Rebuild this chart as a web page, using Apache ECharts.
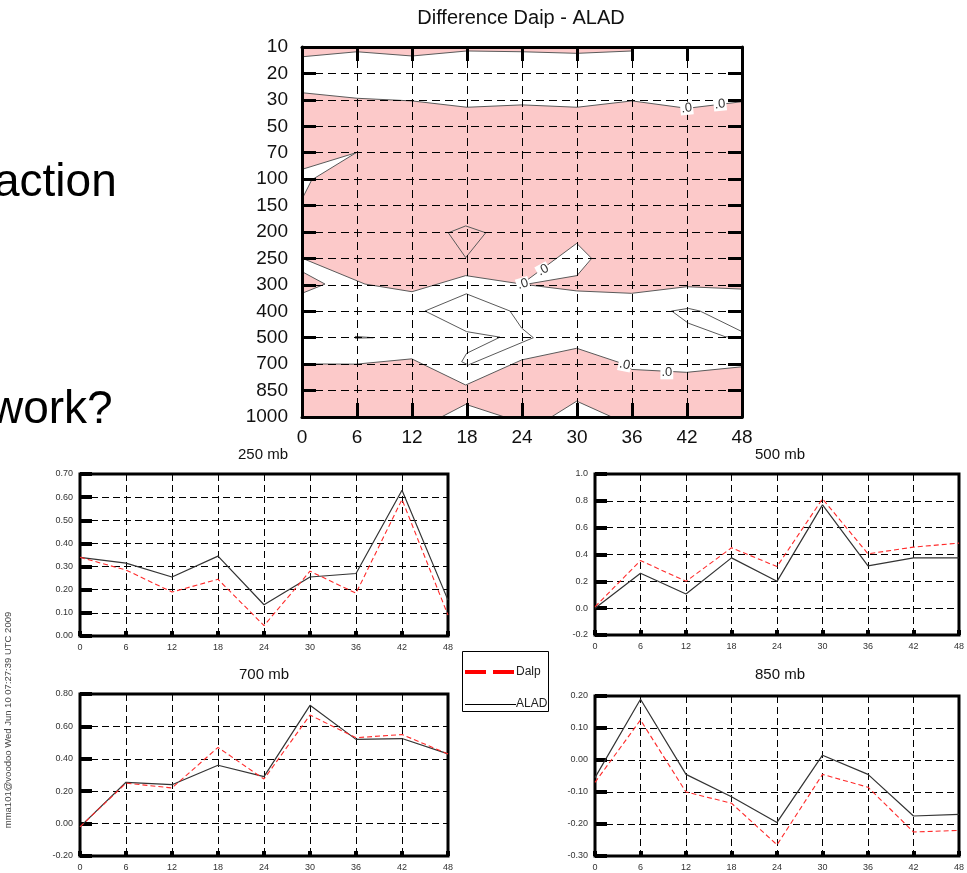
<!DOCTYPE html>
<html><head><meta charset="utf-8">
<script src="https://cdn.jsdelivr.net/npm/echarts@6/dist/echarts.min.js"></script>
<style>html,body{margin:0;padding:0;background:#fff}#c{width:967px;height:873px}</style>
</head><body><div id="c"></div>
<script>
// ---------- DATA ----------
const hours = [0, 6, 12, 18, 24, 30, 36, 42, 48];
const levels = ['10','20','30','50','70','100','150','200','250','300','400','500','700','850','1000'];

const dalp250 = [0.34, 0.285, 0.19, 0.245, 0.045, 0.28, 0.185, 0.59, 0.09];
const alad250 = [0.34, 0.315, 0.255, 0.345, 0.135, 0.255, 0.27, 0.63, 0.155];
const dalp500 = [0.01, 0.355, 0.2, 0.45, 0.31, 0.815, 0.405, 0.455, 0.485];
const alad500 = [0.0, 0.26, 0.105, 0.375, 0.2, 0.77, 0.315, 0.375, 0.375];
const dalp700 = [-0.02, 0.25, 0.22, 0.47, 0.275, 0.67, 0.53, 0.55, 0.43];
const alad700 = [-0.02, 0.255, 0.24, 0.36, 0.29, 0.73, 0.52, 0.525, 0.43];
const dalp850 = [-0.07, 0.125, -0.10, -0.135, -0.265, -0.045, -0.085, -0.225, -0.22];
const alad850 = [-0.055, 0.19, -0.045, -0.115, -0.195, 0.015, -0.045, -0.175, -0.17];

// contour regions of the difference field: [hour, level index]
const whiteRegions = [
  [[0,0.37],[6,0.18],[12,0.34],[18,0.15],[24,0.18],[30,0.24],[36,0.15],[36.4,0],[48,0],[48,2.07],[42,2.32],[36,2.04],[30,2.28],[24,2.19],[18,2.28],[12,2.04],[6,1.94],[0,1.73]],
  [[0,4.63],[5.9,4.0],[1.06,5.03],[0.14,5.66],[0,5.68]],
  [[0,7.99],[6.87,8.97],[12,9.26],[17.86,8.65],[23.97,8.97],[29.97,9.23],[35.96,9.32],[41.97,9.07],[48,9.16],[48,12.1],[41.97,12.31],[35.96,12.2],[35.4,12.03],[29.97,11.4],[23.97,11.84],[17.86,12.79],[11.97,11.8],[5.9,12.0],[0,11.99]],
  [[23.97,8.97],[29.97,7.43],[31.6,8.0],[30,8.65],[24.1,9.0]],
  [[15.2,14],[17.86,13.52],[22.1,14]],
  [[27.2,14],[29.97,13.4],[33.8,14]]
];
const pinkRegions = [
  [[0,8.5],[2.51,8.97],[0,9.32]]
];
const contourLines = [
  [[15.96,7.03],[17.86,6.77],[20.04,7.03],[17.86,7.97],[15.96,7.03]],
  [[13.42,9.99],[17.93,9.34],[22.69,9.99],[23.97,10.64],[25.24,11.0],[18.14,12.03],[17.42,11.91],[17.96,11.59],[21.6,10.98],[17.96,10.77],[13.42,9.99]],
  [[48,10.77],[43.42,9.99],[42.14,9.89],[40.33,9.99],[42.14,10.45],[46.15,10.96],[48,11.0]],
  [[5.78,10.95],[7.78,11.0],[5.78,11.02]]
];
const zeroLabels = [[41.97,2.32,0.1],[45.6,2.17,0.1],[26.3,8.44,0.5],[24.1,8.97,0.3],[35.2,12.03,-0.2],[39.8,12.33,0]];

// ---------- CHART ----------
const FONT = 'Liberation Sans, Arial, Helvetica, sans-serif';
const PINK = '#fcc9c9';
const chart = echarts.init(document.getElementById('c'), null, {renderer: 'canvas'});

const grids = [
  {left: 302, top: 47, width: 440, height: 370, show: true, backgroundColor: PINK, borderWidth: 0},
  {left: 80, top: 474, width: 368, height: 162, show: true, borderColor: '#000', borderWidth: 3},
  {left: 595, top: 474, width: 367, height: 161, show: true, borderColor: '#000', borderWidth: 3},
  {left: 80, top: 694, width: 368, height: 162, show: true, borderColor: '#000', borderWidth: 3},
  {left: 595, top: 696, width: 367, height: 160, show: true, borderColor: '#000', borderWidth: 3}
];

const topTick = {show: true, inside: true, length: 14, lineStyle: {color: '#000', width: 3}};
const topLine = {show: true, onZero: false, lineStyle: {color: '#000', width: 3}};
const dash = {show: true, lineStyle: {color: '#000', width: 1, type: [8, 5]}};
const smallDash = {show: true, lineStyle: {color: '#000', width: 1, type: [7, 4]}};

const xAxes = [
  {gridIndex: 0, type: 'value', min: 0, max: 48, interval: 6, position: 'bottom', z: 5,
   axisLine: topLine, axisTick: topTick, splitLine: dash,
   axisLabel: {fontSize: 19, color: '#111', margin: 11, fontFamily: FONT}},
  {gridIndex: 0, type: 'value', min: 0, max: 48, interval: 6, position: 'top', z: 5,
   axisLine: topLine, axisTick: topTick, splitLine: {show: false}, axisLabel: {show: false}}
];
const yAxes = [
  {gridIndex: 0, type: 'value', inverse: true, min: 0, max: 14, interval: 1, position: 'left', z: 5,
   axisLine: topLine, axisTick: topTick, splitLine: dash,
   axisLabel: {fontSize: 19, color: '#111', margin: 14, fontFamily: FONT, formatter: v => levels[v] || ''}},
  {gridIndex: 0, type: 'value', inverse: true, min: 0, max: 14, interval: 1, position: 'right', z: 5,
   axisLine: topLine, axisTick: topTick, splitLine: {show: false}, axisLabel: {show: false}}
];

const panels = [
  {g: 1, min: 0, max: 0.7, step: 0.1, dec: 2, dalp: dalp250, alad: alad250},
  {g: 2, min: -0.2, max: 1.0, step: 0.2, dec: 1, dalp: dalp500, alad: alad500},
  {g: 3, min: -0.2, max: 0.8, step: 0.2, dec: 2, dalp: dalp700, alad: alad700},
  {g: 4, min: -0.3, max: 0.2, step: 0.1, dec: 2, dalp: dalp850, alad: alad850}
];
const series = [];
panels.forEach((p, i) => {
  xAxes.push({gridIndex: p.g, type: 'value', min: 0, max: 48, interval: 6, position: 'bottom',
    axisLine: {show: false, onZero: false}, axisTick: {show: true, inside: true, length: 5, lineStyle: {color: '#000', width: 4}},
    splitLine: smallDash, axisLabel: {fontSize: 9, color: '#333', margin: 7, fontFamily: FONT, showMaxLabel: true, showMinLabel: true}});
  yAxes.push({gridIndex: p.g, type: 'value', min: p.min, max: p.max, interval: p.step, position: 'left',
    axisLine: {show: false, onZero: false}, axisTick: {show: true, inside: true, length: 12, lineStyle: {color: '#000', width: 4}},
    splitLine: smallDash,
    axisLabel: {fontSize: 9, color: '#333', margin: 7, fontFamily: FONT, formatter: v => (Math.abs(v) < 1e-9 ? 0 : v).toFixed(p.dec)}});
  const ai = i + 2;
  series.push({name: 'ALAD', type: 'line', xAxisIndex: ai, yAxisIndex: ai, symbol: 'none', silent: true,
    data: hours.map((h, k) => [h, p.alad[k]]), lineStyle: {color: '#333', width: 1.2}, z: 3});
  series.push({name: 'Dalp', type: 'line', xAxisIndex: ai, yAxisIndex: ai, symbol: 'none', silent: true,
    data: hours.map((h, k) => [h, p.dalp[k]]), lineStyle: {color: '#ff2a2a', width: 1.1, type: [5, 3]}, z: 3});
});

function polySeries(list, fill) {
  return {type: 'custom', xAxisIndex: 0, yAxisIndex: 0, z: 1, silent: true, clip: true,
    data: list.map(p => p[0]),
    renderItem: function (params, api) {
      const pts = list[params.dataIndex].map(pt => api.coord(pt));
      if (fill) return {type: 'polygon', shape: {points: pts}, style: {fill: fill, stroke: '#5a5a5a', lineWidth: 1}};
      return {type: 'polyline', shape: {points: pts}, style: {fill: null, stroke: '#5a5a5a', lineWidth: 1}};
    }};
}
series.push(polySeries(whiteRegions, '#ffffff'));
series.push(polySeries(pinkRegions, PINK));
series.push(polySeries(contourLines, null));
series.push({type: 'custom', xAxisIndex: 0, yAxisIndex: 0, z: 6, silent: true,
  data: zeroLabels.map(l => [l[0], l[1]]),
  renderItem: function (params, api) {
    const l = zeroLabels[params.dataIndex];
    const c = api.coord([l[0], l[1]]);
    return {type: 'text', x: c[0], y: c[1], rotation: l[2],
      style: {text: '.0', font: '13px ' + FONT, fill: '#333', align: 'center', verticalAlign: 'middle',
        backgroundColor: '#fff', padding: [0, 1]}};
  }});

function txt(x, y, text, size, opts) {
  return Object.assign({type: 'text', x: x, y: y, silent: true,
    style: Object.assign({text: text, font: size + 'px ' + FONT, fill: '#111', align: 'center', verticalAlign: 'middle',
      textAlign: 'center', textVerticalAlign: 'middle'}, (opts && opts.style) || {})}, (opts && opts.el) || {});
}
const leftStyle = {style: {align: 'left', textAlign: 'left', fill: '#000'}};

const graphic = [
  txt(521, 18, 'Difference Daip - ALAD', 20),
  txt(263, 455, '250 mb', 15),
  txt(780, 455, '500 mb', 15),
  txt(264, 675, '700 mb', 15),
  txt(780, 675, '850 mb', 15),
  txt(-6, 183, 'action', 46, leftStyle),
  txt(-10, 410, 'work?', 46, leftStyle),
  {type: 'text', x: 8, y: 720, rotation: Math.PI / 2, silent: true,
   style: {text: 'mma101@voodoo Wed Jun 10 07:27:39 UTC 2009', x: 0, y: 0, font: '9.5px ' + FONT, fill: '#444',
     align: 'center', verticalAlign: 'middle', textAlign: 'center', textVerticalAlign: 'middle'}},
  {type: 'rect', silent: true, shape: {x: 462.5, y: 651.5, width: 86, height: 60},
   style: {fill: '#fff', stroke: '#000', lineWidth: 1}},
  {type: 'line', silent: true, shape: {x1: 465, y1: 672, x2: 514, y2: 672},
   style: {stroke: '#ff0000', lineWidth: 4, lineDash: [21, 7]}},
  txt(516, 672, 'Dalp', 12, {style: {align: 'left', textAlign: 'left', fill: '#222'}}),
  {type: 'line', silent: true, shape: {x1: 465, y1: 704.5, x2: 516, y2: 704.5},
   style: {stroke: '#000', lineWidth: 1}},
  txt(516, 704, 'ALAD', 12, {style: {align: 'left', textAlign: 'left', fill: '#222'}})
];

chart.setOption({
  animation: false,
  backgroundColor: '#fff',
  grid: grids,
  xAxis: xAxes,
  yAxis: yAxes,
  series: series,
  graphic: graphic
});
</script>
</body></html>
